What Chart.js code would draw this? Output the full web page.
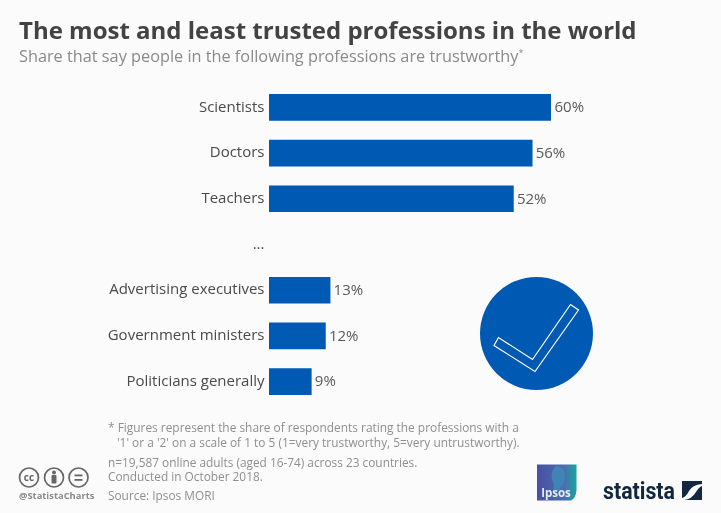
<!DOCTYPE html>
<html><head><meta charset="utf-8">
<script src="https://cdn.jsdelivr.net/npm/chart.js@4/dist/chart.umd.min.js"></script>
<style>
html,body{margin:0;padding:0;background:#fbfbfb;width:721px;height:513px;overflow:hidden}
body{position:relative;font-family:"Open Sans",sans-serif}
#c{position:absolute;left:0;top:0}
.t{position:absolute;white-space:pre;line-height:1}
svg{position:absolute;overflow:visible}
</style></head><body>
<canvas id="c" width="721" height="513" style="width:721px;height:513px"></canvas>
<div class="t" style="left:19px;top:18px;font-size:24px;font-weight:700;color:#434343">The most and least trusted professions in the world</div>
<div class="t" style="left:19px;top:48px;font-size:16.3px;color:#8a8a8a">Share that say people in the following professions are trustworthy<sup style="font-size:9px;line-height:0">*</sup></div>
<div class="t" style="left:108px;top:422px;font-size:11.9px;color:#8f8f8f">* Figures represent the share of respondents rating the professions with a</div>
<div class="t" style="left:117px;top:437px;font-size:11.9px;color:#8f8f8f">'1' or a '2' on a scale of 1 to 5 (1=very trustworthy, 5=very untrustworthy).</div>
<div class="t" style="left:108px;top:457px;font-size:11.85px;color:#8f8f8f">n=19,587 online adults (aged 16-74) across 23 countries.</div>
<div class="t" style="left:108px;top:471px;font-size:11.85px;color:#8f8f8f">Conducted in October 2018.</div>
<div class="t" style="left:108px;top:490px;font-size:11.85px;color:#8f8f8f">Source: Ipsos MORI</div>
<div class="t" style="left:19px;top:491px;font-size:9.4px;font-weight:700;color:#8a8a8a">@StatistaCharts</div>
<svg style="left:0;top:0" width="721" height="513" viewBox="0 0 721 513">
  <circle cx="536.5" cy="333.5" r="56.5" fill="#0059b2"/>
  <path d="M498.5 337.5 L494 345.5 L535 371.5 L578.5 310 L570.5 304.5 L532.5 359.5 Z" fill="none" stroke="#fff" stroke-width="1.2"/>
  <g fill="none" stroke="#666" stroke-width="1.7">
    <circle cx="29" cy="477.5" r="9.5"/><circle cx="54" cy="477.5" r="9.5"/><circle cx="78.5" cy="477.5" r="9.5"/>
  </g>
  <text x="29" y="481" text-anchor="middle" font-size="10" font-weight="700" fill="#666" font-family="Open Sans">cc</text>
  <circle cx="54" cy="472.5" r="2" fill="#666"/><rect x="51.5" y="475" width="5" height="8.5" rx="1" fill="#666"/>
  <rect x="74.5" y="474.5" width="8" height="1.8" fill="#666"/><rect x="74.5" y="479" width="8" height="1.8" fill="#666"/>
  <defs><linearGradient id="ip" x1="0" x2="1" y1="0" y2="0"><stop offset="0" stop-color="#4a4fa3"/><stop offset="0.7" stop-color="#4a6fb0"/><stop offset="1" stop-color="#17a79b"/></linearGradient></defs>
  <path d="M537 464.5 H576.5 V490 Q576 498 571 500.5 H537 Z" fill="url(#ip)"/>
  <path d="M556 466 q9 1 9 9 q0 9 -4 11 l-1 4 h-7 q2 -4 0 -8 q-4 -9 3 -16 Z" fill="#3f84b4"/>
  <text x="556" y="497" text-anchor="middle" font-size="11.5" font-weight="700" fill="#e8eef5" font-family="Open Sans">Ipsos</text>
  <text x="603" y="499" font-size="23.5" font-weight="700" fill="#12283f" font-family="Roboto" textLength="72" lengthAdjust="spacingAndGlyphs">statista</text>
  <path d="M682 481 H702 V484 Q692 485 689 491 Q686 497 682 498 Z" fill="#12283f"/>
  <path d="M702 486 V500 H684 Q692 499 696 492 Q699 487 702 486 Z" fill="#12283f"/>
</svg>
<script>
const categories = ["Scientists","Doctors","Teachers","...","Advertising executives","Government ministers","Politicians generally"];
const shareValues = [60,56,52,null,13,12,9];
const valueLabelPlugin = {
  id:"valueLabels",
  afterDatasetsDraw(chart){
    const ctx = chart.ctx, meta = chart.getDatasetMeta(0);
    ctx.save();
    ctx.font = '15px "Open Sans"';
    ctx.fillStyle = "#5a5a5a";
    ctx.textBaseline = "middle";
    meta.data.forEach((bar,i)=>{
      if(shareValues[i]==null) return;
      ctx.fillText(shareValues[i]+"%", bar.x+3.5, bar.y+0.5);
    });
    ctx.restore();
  }
};
new Chart(document.getElementById("c"),{
  type:"bar",
  data:{labels:categories,datasets:[{data:shareValues,backgroundColor:"#0059b2",borderWidth:0,barThickness:26}]},
  plugins:[valueLabelPlugin],
  options:{
    indexAxis:"y",responsive:false,animation:false,
    layout:{padding:{left:0,right:170,top:84.5,bottom:108.5}},
    plugins:{legend:{display:false},tooltip:{enabled:false}},
    scales:{
      x:{display:false,min:0,max:60},
      y:{
        afterFit(s){s.width=269},
        grid:{display:false,drawTicks:false},border:{display:false},
        ticks:{color:"#4a4a4a",padding:4.5,labelOffset:0,font:{family:"Open Sans",size:15}}
      }
    }
  }
});
</script>
</body></html>
